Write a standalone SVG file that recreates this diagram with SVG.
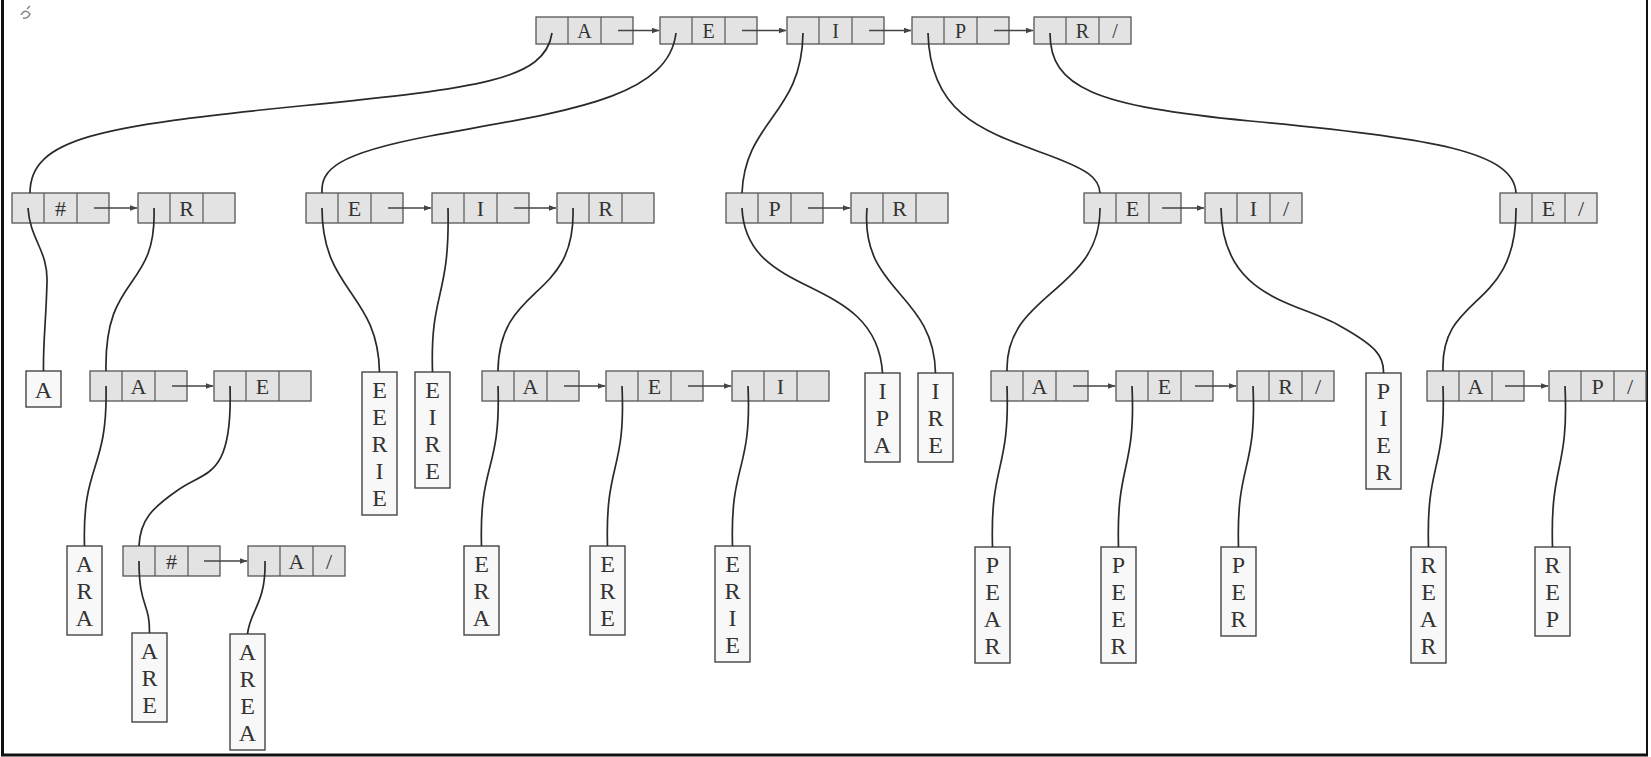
<svg xmlns="http://www.w3.org/2000/svg" width="1651" height="757" viewBox="0 0 1651 757">
<style>
.c{fill:#e3e3e3;stroke:#555;stroke-width:1.3}
.d{stroke:#555;stroke-width:1.2}
.lf{fill:#f8f8f8;stroke:#444;stroke-width:1.4}
.t{font-family:"Liberation Serif","DejaVu Serif",serif;font-size:22px;fill:#333;text-anchor:middle}
.tt{font-size:20px}
.lt{font-family:"Liberation Serif","DejaVu Serif",serif;font-size:24px;fill:#333;text-anchor:middle}
.lk{fill:none;stroke:#2a2a2a;stroke-width:1.7}
.ar{stroke:#444;stroke-width:1.4;marker-end:url(#ah)}
.fr{stroke:#111;stroke-width:3}
</style>
<defs>
<marker id="ah" markerWidth="8" markerHeight="6" refX="7.5" refY="3" orient="auto" markerUnits="userSpaceOnUse">
<path d="M0,0 L8,3 L0,6 Z" fill="#444"/>
</marker>
<g id="cells"><rect class="c" x="0" y="0" width="97" height="30"/><line class="d" x1="32" y1="0" x2="32" y2="30"/><line class="d" x1="65" y1="0" x2="65" y2="30"/></g>
<g id="cellsT"><rect class="c" x="0" y="0" width="97" height="27"/><line class="d" x1="32" y1="0" x2="32" y2="27"/><line class="d" x1="65" y1="0" x2="65" y2="27"/></g>
</defs>
<rect width="1651" height="757" fill="#fff"/>
<line class="fr" x1="2.5" y1="0" x2="2.5" y2="756"/>
<line class="fr" x1="1647" y1="0" x2="1647" y2="756" style="stroke-width:2"/>
<line class="fr" x1="1" y1="755" x2="1648" y2="755"/>
<path d="M21,15 q4,-7 9,-1 q-2,5 -7,4 M27,9 l3,-3" fill="none" stroke="#888" stroke-width="1.5"/>

<!-- top row -->
<g id="t1"><use href="#cellsT" x="536" y="17"/><text class="t tt" x="584.5" y="38">A</text></g>
<g id="t2"><use href="#cellsT" x="660" y="17"/><text class="t tt" x="708.5" y="38">E</text></g>
<g id="t3"><use href="#cellsT" x="787" y="17"/><text class="t tt" x="835.5" y="38">I</text></g>
<g id="t4"><use href="#cellsT" x="912" y="17"/><text class="t tt" x="960.5" y="38">P</text></g>
<g id="t5"><use href="#cellsT" x="1034" y="17"/><text class="t tt" x="1082.5" y="38">R</text><text class="t tt" x="1115" y="38">/</text></g>

<!-- row 2 -->
<g id="r2a"><use href="#cells" x="12" y="193"/><text class="t" x="60.5" y="216">#</text></g>
<g id="r2b"><use href="#cells" x="138" y="193"/><text class="t" x="186.5" y="216">R</text></g>
<g id="r2c"><use href="#cells" x="306" y="193"/><text class="t" x="354.5" y="216">E</text></g>
<g id="r2d"><use href="#cells" x="432" y="193"/><text class="t" x="480.5" y="216">I</text></g>
<g id="r2e"><use href="#cells" x="557" y="193"/><text class="t" x="605.5" y="216">R</text></g>
<g id="r2f"><use href="#cells" x="726" y="193"/><text class="t" x="774.5" y="216">P</text></g>
<g id="r2g"><use href="#cells" x="851" y="193"/><text class="t" x="899.5" y="216">R</text></g>
<g id="r2h"><use href="#cells" x="1084" y="193"/><text class="t" x="1132.5" y="216">E</text></g>
<g id="r2i"><use href="#cells" x="1205" y="193"/><text class="t" x="1253.5" y="216">I</text><text class="t" x="1286" y="216">/</text></g>
<g id="r2j"><use href="#cells" x="1500" y="193"/><text class="t" x="1548.5" y="216">E</text><text class="t" x="1581" y="216">/</text></g>

<!-- row 3 -->
<g id="r3a"><use href="#cells" x="90" y="371"/><text class="t" x="138.5" y="394">A</text></g>
<g id="r3b"><use href="#cells" x="214" y="371"/><text class="t" x="262.5" y="394">E</text></g>
<g id="r3c"><use href="#cells" x="482" y="371"/><text class="t" x="530.5" y="394">A</text></g>
<g id="r3d"><use href="#cells" x="606" y="371"/><text class="t" x="654.5" y="394">E</text></g>
<g id="r3e"><use href="#cells" x="732" y="371"/><text class="t" x="780.5" y="394">I</text></g>
<g id="r3f"><use href="#cells" x="991" y="371"/><text class="t" x="1039.5" y="394">A</text></g>
<g id="r3g"><use href="#cells" x="1116" y="371"/><text class="t" x="1164.5" y="394">E</text></g>
<g id="r3h"><use href="#cells" x="1237" y="371"/><text class="t" x="1285.5" y="394">R</text><text class="t" x="1318" y="394">/</text></g>
<g id="r3i"><use href="#cells" x="1427" y="371"/><text class="t" x="1475.5" y="394">A</text></g>
<g id="r3j"><use href="#cells" x="1549" y="371"/><text class="t" x="1597.5" y="394">P</text><text class="t" x="1630" y="394">/</text></g>

<!-- row 4 -->
<g id="r4a"><use href="#cells" x="123" y="546"/><text class="t" x="171.5" y="569">#</text></g>
<g id="r4b"><use href="#cells" x="248" y="546"/><text class="t" x="296.5" y="569">A</text><text class="t" x="329" y="569">/</text></g>

<!-- leaves -->
<g id="lA"><rect class="lf" x="26" y="371" width="35" height="36"/><text class="lt" x="43.5" y="398">A</text></g>
<g id="lEERIE"><rect class="lf" x="362" y="372" width="35" height="143"/><text class="lt" x="379.5" y="398">E<tspan x="379.5" dy="27">E</tspan><tspan x="379.5" dy="27">R</tspan><tspan x="379.5" dy="27">I</tspan><tspan x="379.5" dy="27">E</tspan></text></g>
<g id="lEIRE"><rect class="lf" x="415" y="372" width="35" height="116"/><text class="lt" x="432.5" y="398">E<tspan x="432.5" dy="27">I</tspan><tspan x="432.5" dy="27">R</tspan><tspan x="432.5" dy="27">E</tspan></text></g>
<g id="lIPA"><rect class="lf" x="865" y="373" width="35" height="89"/><text class="lt" x="882.5" y="399">I<tspan x="882.5" dy="27">P</tspan><tspan x="882.5" dy="27">A</tspan></text></g>
<g id="lIRE"><rect class="lf" x="918" y="373" width="35" height="89"/><text class="lt" x="935.5" y="399">I<tspan x="935.5" dy="27">R</tspan><tspan x="935.5" dy="27">E</tspan></text></g>
<g id="lPIER"><rect class="lf" x="1366" y="373" width="35" height="116"/><text class="lt" x="1383.5" y="399">P<tspan x="1383.5" dy="27">I</tspan><tspan x="1383.5" dy="27">E</tspan><tspan x="1383.5" dy="27">R</tspan></text></g>
<g id="lARA"><rect class="lf" x="67" y="546" width="35" height="89"/><text class="lt" x="84.5" y="572">A<tspan x="84.5" dy="27">R</tspan><tspan x="84.5" dy="27">A</tspan></text></g>
<g id="lERA"><rect class="lf" x="464" y="546" width="35" height="89"/><text class="lt" x="481.5" y="572">E<tspan x="481.5" dy="27">R</tspan><tspan x="481.5" dy="27">A</tspan></text></g>
<g id="lERE"><rect class="lf" x="590" y="546" width="35" height="89"/><text class="lt" x="607.5" y="572">E<tspan x="607.5" dy="27">R</tspan><tspan x="607.5" dy="27">E</tspan></text></g>
<g id="lERIE"><rect class="lf" x="715" y="546" width="35" height="116"/><text class="lt" x="732.5" y="572">E<tspan x="732.5" dy="27">R</tspan><tspan x="732.5" dy="27">I</tspan><tspan x="732.5" dy="27">E</tspan></text></g>
<g id="lPEAR"><rect class="lf" x="975" y="547" width="35" height="116"/><text class="lt" x="992.5" y="573">P<tspan x="992.5" dy="27">E</tspan><tspan x="992.5" dy="27">A</tspan><tspan x="992.5" dy="27">R</tspan></text></g>
<g id="lPEER"><rect class="lf" x="1101" y="547" width="35" height="116"/><text class="lt" x="1118.5" y="573">P<tspan x="1118.5" dy="27">E</tspan><tspan x="1118.5" dy="27">E</tspan><tspan x="1118.5" dy="27">R</tspan></text></g>
<g id="lPER"><rect class="lf" x="1221" y="547" width="35" height="89"/><text class="lt" x="1238.5" y="573">P<tspan x="1238.5" dy="27">E</tspan><tspan x="1238.5" dy="27">R</tspan></text></g>
<g id="lREAR"><rect class="lf" x="1411" y="547" width="35" height="116"/><text class="lt" x="1428.5" y="573">R<tspan x="1428.5" dy="27">E</tspan><tspan x="1428.5" dy="27">A</tspan><tspan x="1428.5" dy="27">R</tspan></text></g>
<g id="lREP"><rect class="lf" x="1535" y="547" width="35" height="89"/><text class="lt" x="1552.5" y="573">R<tspan x="1552.5" dy="27">E</tspan><tspan x="1552.5" dy="27">P</tspan></text></g>
<g id="lARE"><rect class="lf" x="132" y="633" width="35" height="89"/><text class="lt" x="149.5" y="659">A<tspan x="149.5" dy="27">R</tspan><tspan x="149.5" dy="27">E</tspan></text></g>
<g id="lAREA"><rect class="lf" x="230" y="634" width="35" height="116"/><text class="lt" x="247.5" y="660">A<tspan x="247.5" dy="27">R</tspan><tspan x="247.5" dy="27">E</tspan><tspan x="247.5" dy="27">A</tspan></text></g>

<g id="connectors">
<!-- next arrows -->
<line class="ar" x1="618" y1="30.5" x2="659" y2="30.5"/>
<line class="ar" x1="742" y1="30.5" x2="786" y2="30.5"/>
<line class="ar" x1="869" y1="30.5" x2="911" y2="30.5"/>
<line class="ar" x1="994" y1="30.5" x2="1033" y2="30.5"/>
<line class="ar" x1="94" y1="208" x2="137" y2="208"/>
<line class="ar" x1="388" y1="208" x2="431" y2="208"/>
<line class="ar" x1="514" y1="208" x2="556" y2="208"/>
<line class="ar" x1="808" y1="208" x2="850" y2="208"/>
<line class="ar" x1="1162" y1="208" x2="1204" y2="208"/>
<line class="ar" x1="172" y1="386" x2="213" y2="386"/>
<line class="ar" x1="564" y1="386" x2="605" y2="386"/>
<line class="ar" x1="688" y1="386" x2="731" y2="386"/>
<line class="ar" x1="1073" y1="386" x2="1115" y2="386"/>
<line class="ar" x1="1195" y1="386" x2="1236" y2="386"/>
<line class="ar" x1="1505" y1="386" x2="1548" y2="386"/>
<line class="ar" x1="204" y1="561" x2="247" y2="561"/>
<!-- child links from top row -->
<path class="lk" d="M552,33 C545,80 480,88 300,106 C100,126 30,138 30,193"/>
<path class="lk" d="M676,33 C668,100 560,112 430,136 C335,154 321,170 322,193"/>
<path class="lk" d="M803,33 C802,115 745,120 742,193"/>
<path class="lk" d="M928,33 C930,112 980,130 1040,152 C1090,170 1099,178 1100,193"/>
<path class="lk" d="M1050,33 C1050,88 1095,106 1250,121 C1435,138 1514,152 1516,193"/>
<!-- row 2 links -->
<path class="lk" d="M28,208 C30,240 48,250 47,282 C46,322 43,342 43.5,371"/>
<path class="lk" d="M154,208 C157,292 104,272 106,371"/>
<path class="lk" d="M322,208 C322,292 378,292 379.5,372"/>
<path class="lk" d="M448,208 C450,300 430,290 432.5,372"/>
<path class="lk" d="M573,208 C576,302 499,282 498,371"/>
<path class="lk" d="M742,208 C746,302 876,272 882.5,373"/>
<path class="lk" d="M867,208 C860,292 934,292 935.5,373"/>
<path class="lk" d="M1100,208 C1101,292 1005,292 1007,371"/>
<path class="lk" d="M1221,208 C1222,300 1300,302 1340,326 C1376,346 1384,356 1383.5,373"/>
<path class="lk" d="M1516,208 C1517,312 1440,292 1443,371"/>
<!-- row 3 links -->
<path class="lk" d="M106,386 C108,472 82,462 84.5,546"/>
<path class="lk" d="M230,386 C233,480 205,470 178,490 C152,508 140,520 139,546"/>
<path class="lk" d="M498,386 C501,472 479,462 481.5,546"/>
<path class="lk" d="M622,386 C626,472 605,462 607.5,546"/>
<path class="lk" d="M748,386 C752,472 730,462 732.5,546"/>
<path class="lk" d="M1007,386 C1010,472 990,462 992.5,547"/>
<path class="lk" d="M1132,386 C1136,472 1116,462 1118.5,547"/>
<path class="lk" d="M1253,386 C1257,472 1236,462 1238.5,547"/>
<path class="lk" d="M1443,386 C1446,472 1426,462 1428.5,547"/>
<path class="lk" d="M1565,386 C1569,472 1550,462 1552.5,547"/>
<!-- row 4 links -->
<path class="lk" d="M139,561 C139,608 150,602 149.5,633"/>
<path class="lk" d="M265,561 C266,604 250,610 247.5,634"/>
</g>
</svg>
